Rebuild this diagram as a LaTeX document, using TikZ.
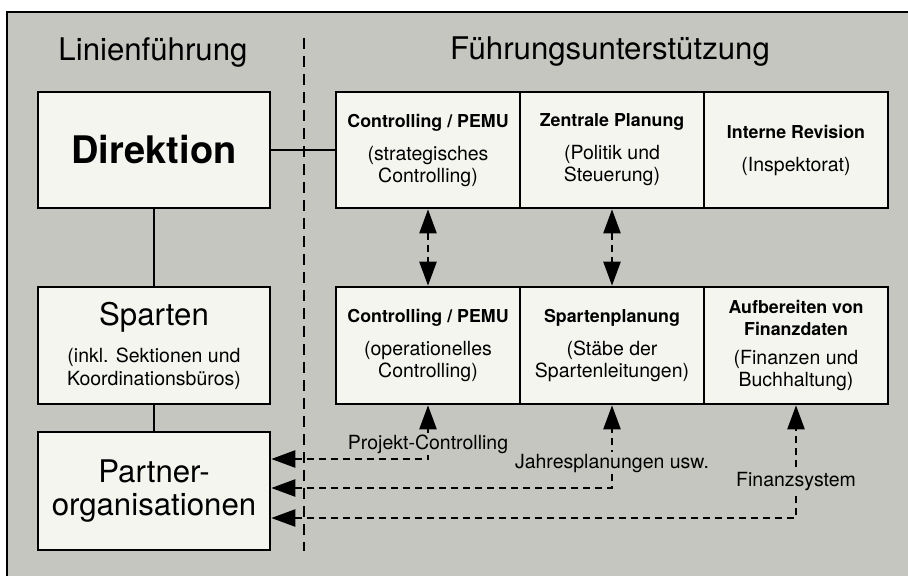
\documentclass[tikz,border=0pt]{standalone}
\usepackage{fontspec}
\setmainfont{TeX Gyre Heros}
\usepackage{xcolor}
\usepackage{tikz}
\usetikzlibrary{arrows.meta}

\definecolor{paper}{RGB}{198,198,192}
\definecolor{boxfill}{RGB}{245,245,240}
\newcommand{\cellhead}[1]{{\fontsize{8.9}{11}\selectfont\bfseries #1}}

\begin{document}
\begin{tikzpicture}[x=0.5pt, y=-0.5pt, >={Triangle[length=12pt, width=8.5pt]},
    box/.style={draw, line width=1.3pt, fill=boxfill, inner sep=0pt, align=center, minimum width=116pt, minimum height=58pt},
    cell/.style={box, minimum width=92pt, font=\fontsize{9.75}{11}\selectfont},
    title/.style={font=\fontsize{15.6}{18}\selectfont},
    link/.style={line width=1.3pt},
    feed/.style={line width=1.2pt, dash pattern=on 3.5pt off 2.5pt},
    lbl/.style={fill=paper, inner sep=1pt, font=\fontsize{9.75}{11}\selectfont}]

  % page and frame
  \useasboundingbox (0,0) rectangle (908,576);
  \fill[white] (0,0) rectangle (908,576);
  \fill[paper] (7,12) rectangle (908,576);
  \draw[line width=1pt] (7,576) -- (7,12) -- (908,12);

  % headings and divider
  \node[title] (linie) at (153,52) {Linienführung};
  \node[title] (fuehr) at (610,52) {Führungsunterstützung};
  \coordinate (septop) at (304,38);
  \coordinate (sepbot) at (304,551);
  \draw[line width=1.3pt, dash pattern=on 5.5pt off 3.5pt] (septop) -- (sepbot);

  % line management
  \node[box, font=\fontsize{19}{22}\selectfont\bfseries] (dir) at (154,150) {Direktion};
  \node[box, minimum height=58.5pt, font=\fontsize{9.75}{11.5}\selectfont] (spa) at (154,345.5)
    {{\fontsize{15.6}{18}\selectfont Sparten}\\[7pt] (inkl. Sektionen und\\ Koordinationsbüros)};
  \node[box, minimum height=59pt, font=\fontsize{15.6}{16.5}\selectfont] (partner) at (154,491)
    {Partner-\\organisationen};

  % management support, top row
  \node[cell] (ctrlS) at (428,150) {\cellhead{Controlling / PEMU}\\[5.5pt] (strategisches\\ Controlling)};
  \node[cell] (zplan) at (612,150) {\cellhead{Zentrale Planung}\\[5.5pt] (Politik und\\ Steuerung)};
  \node[cell] (rev) at (796,150) {\cellhead{Interne Revision}\\[5.5pt] (Inspektorat)};

  % management support, bottom row
  \node[cell, minimum height=58.5pt] (ctrlO) at (428,345.5) {\cellhead{Controlling / PEMU}\\[5.5pt] (operationelles\\ Controlling)};
  \node[cell, minimum height=58.5pt] (splan) at (612,345.5) {\cellhead{Spartenplanung}\\[5.5pt] (Stäbe der\\ Spartenleitungen)};
  \node[cell, minimum height=58.5pt] (fin) at (796,345.5) {\cellhead{Aufbereiten von}\\ \cellhead{Finanzdaten}\\[3.5pt] (Finanzen und\\ Buchhaltung)};

  \draw[link] (dir) -- (ctrlS);
  \draw[link] (dir) -- (spa);
  \draw[link] (spa) -- (partner);
  \draw[feed, <->] (ctrlS) -- (ctrlO);
  \draw[feed, <->] (zplan) -- (splan);

  % information flows back to the partners
  \coordinate (pc) at (428,459);
  \coordinate (jp) at (612,488);
  \coordinate (fs) at (796,518);
  \draw[feed, <->] (partner.east |- pc) -| node[lbl, pos=0.64] {Projekt-Controlling} (ctrlO.south);
  \draw[feed, <->] (partner.east |- jp) -| node[lbl, pos=0.65] {Jahresplanungen usw.} (splan.south);
  \draw[feed, <->] (partner.east |- fs) -| node[lbl, pos=0.66] {Finanzsystem} (fin.south);
\end{tikzpicture}
\end{document}
